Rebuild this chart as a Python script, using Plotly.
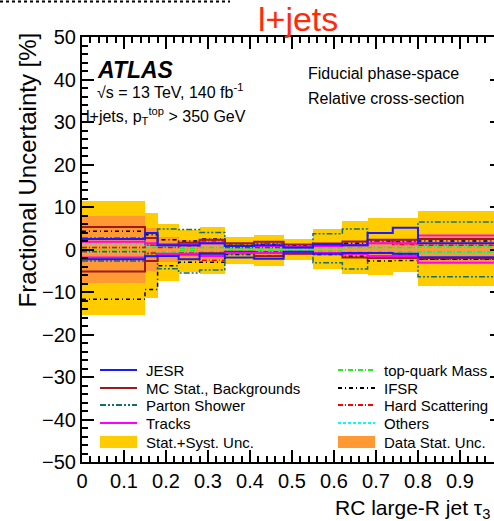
import plotly.graph_objects as go

# ---------------- data ----------------
bin_edges = [0.0, 0.15, 0.18, 0.23, 0.28, 0.34, 0.41, 0.48, 0.55, 0.62, 0.68, 0.74, 0.80, 1.0]

total_up = [11.3, 8.6, 6.0, 4.7, 5.3, 3.0, 3.3, 2.5, 4.8, 6.7, 7.4, 7.4, 9.0]
total_down = [-15.5, -11.3, -7.3, -5.2, -5.7, -3.3, -3.9, -2.5, -4.5, -5.8, -5.9, -5.4, -8.5]
data_stat = [7.8, 5.0, 3.0, 2.2, 2.3, 1.5, 1.7, 1.3, 1.5, 2.0, 2.2, 2.2, 3.0]

jesr_up = [2.5, 3.9, 1.0, 1.0, 1.5, 0.8, 1.0, 0.5, 1.2, 1.0, 3.9, 5.1, 1.5]
jesr_down = [-2.3, -1.6, -1.5, -2.3, -1.0, -1.9, -2.2, -0.5, -1.0, -0.8, -0.8, -1.0, -1.8]
mcstat_up = [5.3, 2.7, 1.2, 1.6, 2.3, 1.5, 1.8, 1.2, 1.4, 1.9, 2.3, 2.3, 2.5]
mcstat_down = [-5.2, -2.7, -1.4, -1.2, -0.9, -0.5, -1.6, -1.0, -0.8, -1.9, -2.0, -2.0, -2.0]
ps_up = [2.7, 1.0, 4.8, 4.7, 4.0, 1.0, 1.5, 0.5, 3.7, 4.8, 2.0, 2.0, 6.5]
ps_down = [-2.7, -1.0, -4.5, -5.5, -4.8, -1.0, -1.5, -0.5, -3.1, -4.6, -2.0, -2.0, -6.4]
tracks_up = [1.8, 1.5, 1.0, 1.0, 1.5, 0.8, 0.8, 0.6, 0.8, 1.0, 1.5, 1.5, 3.3]
tracks_down = [-1.9, -1.5, -1.0, -1.0, -1.5, -0.8, -0.8, -0.6, -0.8, -1.0, -1.5, -1.5, -3.1]
mass_up = [0.4, 0.5, 0.6, 0.3, 0.5, 0.3, 0.3, 0.3, 0.4, 0.5, 0.5, 0.5, 0.6]
mass_down = [-0.4, -0.5, -0.6, -0.3, -0.5, -0.3, -0.3, -0.3, -0.4, -0.5, -0.5, -0.5, -0.6]
ifsr_up = [4.3, 3.5, 2.3, 2.0, 2.5, 1.0, 1.2, 0.8, 1.0, 1.5, 2.0, 1.8, 2.0]
ifsr_down = [-11.7, -9.4, -3.8, -3.0, -3.0, -1.2, -1.5, -0.8, -1.2, -1.6, -2.7, -2.6, -2.3]
hs_up = [0.5, 1.0, 0.5, 0.8, 2.0, 0.5, 0.5, 0.5, 0.8, 1.0, 1.5, 1.2, 1.0]
hs_down = [-0.5, -0.8, -1.0, -0.8, -2.5, -0.5, -0.5, -0.5, -0.8, -1.0, -1.5, -1.2, -2.3]
others_up = [1.0, 0.8, 0.6, 0.6, 0.5, 0.4, 0.4, 0.4, 0.5, 0.5, 0.5, 0.5, 0.6]
others_down = [-0.8, -0.8, -0.6, -0.6, -0.5, -0.4, -0.4, -0.4, -0.5, -0.5, -0.5, -0.5, -0.6]

y_ticks = [-50, -40, -30, -20, -10, 0, 10, 20, 30, 40, 50]
x_ticks = [0, 0.1, 0.2, 0.3, 0.4, 0.5, 0.6, 0.7, 0.8, 0.9]
x_tick_labels = ["0", "0.1", "0.2", "0.3", "0.4", "0.5", "0.6", "0.7", "0.8", "0.9"]

# ---------------- styles ----------------
YELLOW = "#ffcc00"
ORANGE = "#ff9933"
FONT = "Liberation Sans, Arial, Helvetica, sans-serif"

systematics = [
    ("Others", others_up, others_down, "#00ffff", "3px,2px", 1.5),
    ("top-quark Mass", mass_up, mass_down, "#22ee22", "5px,2px,1px,2px", 1.5),
    ("Hard Scattering", hs_up, hs_down, "#ff0000", "5px,2px,1px,2px", 1.5),
    ("IFSR", ifsr_up, ifsr_down, "#000000", "4px,3px,1px,3px", 1.5),
    ("Parton Shower", ps_up, ps_down, "#11706a", "6px,2px,2px,2px,2px,2px", 1.5),
    ("MC Stat., Backgrounds", mcstat_up, mcstat_down, "#a01818", "solid", 2),
    ("Tracks", tracks_up, tracks_down, "#ff00ff", "solid", 2),
    ("JESR", jesr_up, jesr_down, "#1a1aff", "solid", 2),
]

centers = [(a + b) / 2 for a, b in zip(bin_edges[:-1], bin_edges[1:])]
widths = [b - a for a, b in zip(bin_edges[:-1], bin_edges[1:])]

fig = go.Figure()

fig.add_trace(go.Bar(
    x=centers, y=[u - d for u, d in zip(total_up, total_down)], base=total_down,
    width=widths, marker=dict(color=YELLOW, line=dict(width=0)),
    showlegend=False, hoverinfo="skip"))
fig.add_trace(go.Bar(
    x=centers, y=[2 * s for s in data_stat], base=[-s for s in data_stat],
    width=widths, marker=dict(color=ORANGE, line=dict(width=0)),
    showlegend=False, hoverinfo="skip"))

for name, up, down, color, dash, w in systematics:
    for vals in (up, down):
        fig.add_trace(go.Scatter(
            x=bin_edges, y=list(vals) + [vals[-1]], mode="lines",
            line=dict(color=color, dash=dash, width=w, shape="hv"),
            showlegend=False, hoverinfo="skip"))

# invisible trace to hold the right-hand axis stubs
fig.add_trace(go.Scatter(x=[0], y=[0], yaxis="y2", mode="none",
                         showlegend=False, hoverinfo="skip"))

# ---------------- layout ----------------
L, T, W, H = 82, 37, 494, 521
B = 462
PW, PH = W - L, B - T


def px(x):
    return (x - L) / PW


def py(y):
    return (B - y) / PH


annotations = []
shapes = []


def text(x, y, s, size, anchor="left", color="black", yanchor="middle", **kw):
    annotations.append(dict(x=px(x), y=py(y), xref="paper", yref="paper", text=s,
                            showarrow=False, xanchor=anchor, yanchor=yanchor,
                            font=dict(family=FONT, size=size, color=color), **kw))


text(298, 19, "l+jets", 34, anchor="center", color="#ff2a0a")
text(95, 70, "<b><i>ATLAS</i></b>", 23)
text(95, 91, "√s = 13 TeV, 140 fb<sup>-1</sup>", 16)
text(84, 116, "l+jets, p<sub>T</sub><sup>top</sup> > 350 GeV", 16)
text(306, 73, "Fiducial phase-space", 16)
text(306, 98, "Relative cross-section", 16)
text(492, 509, "RC large-R jet τ<sub>3</sub>", 21, anchor="right")
annotations.append(dict(x=px(27), y=py(31), xref="paper", yref="paper",
                        text="Fractional Uncertainty [%]", textangle=-90,
                        showarrow=False, xanchor="center", yanchor="top",
                        font=dict(family=FONT, size=24, color="black")))

# legend (drawn manually in two columns)
left_items = [("JESR", "#1a1aff", "solid"), ("MC Stat., Backgrounds", "#a01818", "solid"),
              ("Parton Shower", "#11706a", "6px,2px,2px,2px,2px,2px"), ("Tracks", "#ff00ff", "solid")]
right_items = [("top-quark Mass", "#22ee22", "5px,2px,1px,2px"), ("IFSR", "#000000", "4px,3px,1px,3px"),
               ("Hard Scattering", "#ff0000", "5px,2px,1px,2px"), ("Others", "#00ffff", "3px,2px")]
rows = [370, 388, 405, 423]
for (items, x0, x1, tx) in ((left_items, 100, 137, 144), (right_items, 338, 375, 382)):
    for (name, color, dash), ry in zip(items, rows):
        shapes.append(dict(type="line", xref="paper", yref="paper",
                           x0=px(x0), x1=px(x1), y0=py(ry), y1=py(ry),
                           line=dict(color=color, width=2, dash=dash)))
        text(tx, ry, name, 15)
for (label, color, x0, x1, tx) in (("Stat.+Syst. Unc.", YELLOW, 100, 137, 144),
                                   ("Data Stat. Unc.", ORANGE, 338, 375, 382)):
    shapes.append(dict(type="rect", xref="paper", yref="paper",
                       x0=px(x0), x1=px(x1), y0=py(448), y1=py(436),
                       fillcolor=color, line=dict(width=0)))
    text(tx, 442, label, 15)

# cropped artifact line at the very top
shapes.append(dict(type="line", xref="paper", yref="paper", x0=px(0), x1=px(230),
                   y0=py(1.5), y1=py(1.5), line=dict(color="black", width=2, dash="dot")))

fig.update_layout(
    width=W, height=H,
    margin=dict(l=L, r=0, t=T, b=H - B, pad=0),
    paper_bgcolor="white", plot_bgcolor="white",
    barmode="overlay", bargap=0,
    showlegend=False,
    font=dict(family=FONT, size=20, color="black"),
    annotations=annotations, shapes=shapes,
    xaxis=dict(range=[0, 0.981], domain=[0, 1], tickmode="array", tickvals=x_ticks,
               ticktext=x_tick_labels, ticks="inside", ticklen=12, tickwidth=1.5,
               tickcolor="black", showline=True, linecolor="black", linewidth=2,
               mirror="ticks", showgrid=False, zeroline=False,
               tickfont=dict(family=FONT, size=20),
               minor=dict(dtick=0.02, ticks="inside", ticklen=6, tickwidth=1.5,
                          tickcolor="black", showgrid=False)),
    yaxis=dict(range=[-50, 50], tickmode="array", tickvals=y_ticks,
               ticks="inside", ticklen=12, tickwidth=1.5, tickcolor="black",
               showline=True, linecolor="black", linewidth=2, mirror=False,
               showgrid=False, zeroline=False, tickfont=dict(family=FONT, size=20),
               minor=dict(dtick=2, ticks="inside", ticklen=6, tickwidth=1.5,
                          tickcolor="black", showgrid=False)),
    yaxis2=dict(range=[-50, 50], overlaying="y", side="right", anchor="x",
                tickmode="array", tickvals=y_ticks, ticks="inside", ticklen=4,
                tickwidth=1.5, tickcolor="black", showticklabels=False,
                showline=False, showgrid=False, zeroline=False),
)

fig.write_html("out.html")
